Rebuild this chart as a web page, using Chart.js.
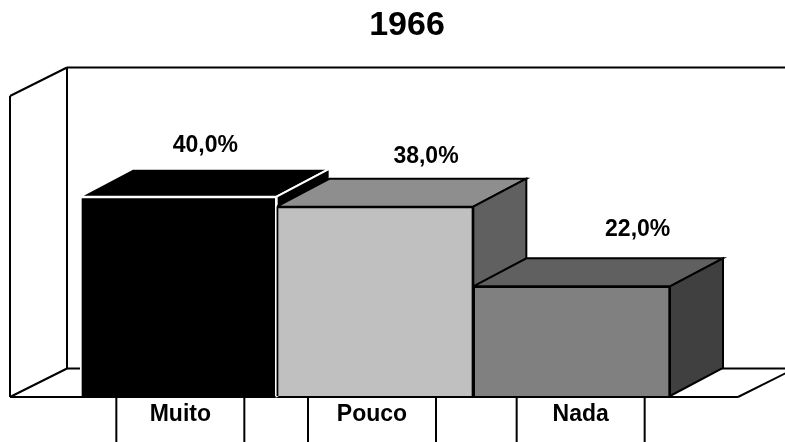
<!DOCTYPE html>
<html>
<head>
<meta charset="utf-8">
<script src="https://cdn.jsdelivr.net/npm/chart.js@4"></script>
<style>
    body { margin: 0; background: #fff; }
    canvas { display: block; }
</style>
</head>
<body>
<canvas id="chart1966" width="785" height="442"></canvas>
<script>
const chartTitle = '1966';
const categories = ['Muito', 'Pouco', 'Nada'];
const percentages = [40.0, 38.0, 22.0];
const axisMax = 60;

// colours of the three faces of each block
const frontColors = ['#000000', '#c0c0c0', '#808080'];
const topColors = ['#000000', '#8e8e8e', '#606060'];
const sideColors = ['#000000', '#606060', '#404040'];
const edgeColors = ['#ffffff', '#000000', '#000000'];

// oblique depth of the 3d effect
const DEPTH_X = 53;
const DEPTH_Y = -28;
const FONT = '"Liberation Sans", Arial, sans-serif';

// small nudges so the labels sit where the original put them
const labelShiftX = [27, 51, 66];
const labelShiftY = [-23, -22, -29];
const boxShiftX = [2, -3, 9];

function formatPercent(v) {
    return v.toFixed(1).replace('.', ',') + '%';
}

function poly(ctx, pts, fill, stroke, lw) {
    ctx.beginPath();
    ctx.moveTo(pts[0][0], pts[0][1]);
    for (let i = 1; i < pts.length; i++) ctx.lineTo(pts[i][0], pts[i][1]);
    ctx.closePath();
    if (fill) { ctx.fillStyle = fill; ctx.fill(); }
    if (stroke) { ctx.strokeStyle = stroke; ctx.lineWidth = lw; ctx.stroke(); }
}

function line(ctx, x1, y1, x2, y2) {
    ctx.beginPath();
    ctx.moveTo(x1, y1);
    ctx.lineTo(x2, y2);
    ctx.stroke();
}

const box3d = {
    id: 'box3d',
    beforeDatasetsDraw(chart) {
        const ctx = chart.ctx;
        const a = chart.chartArea;
        const wx = 57, wy = -28.5;
        const left = a.left - 70, right = a.right + 68;
        const floorY = a.bottom + 1, wallTop = a.top - 1;

        ctx.save();
        ctx.strokeStyle = '#000';
        ctx.lineWidth = 2;
        // back wall + side wall + floor outline
        line(ctx, left + wx, wallTop + wy, chart.width + 5, wallTop + wy);
        line(ctx, left + wx, wallTop + wy, left + wx, floorY + wy);
        line(ctx, left + wx, floorY + wy, chart.width + 5, floorY + wy);
        line(ctx, left, wallTop, left + wx, wallTop + wy);
        line(ctx, left, wallTop, left, floorY);
        line(ctx, left, floorY, left + wx, floorY + wy);
        line(ctx, left, floorY, right, floorY);
        line(ctx, right, floorY, right + wx, floorY + wy);

        // top and side faces, left to right, the fronts are painted later by Chart.js
        const bars = chart.getDatasetMeta(0).data;
        bars.forEach((bar, i) => {
            const x0 = bar.x - bar.width / 2;
            const x1 = bar.x + bar.width / 2;
            const y = bar.y, b = bar.base;
            const edge = edgeColors[i];
            poly(ctx, [[x0, y], [x0 + DEPTH_X, y + DEPTH_Y], [x1 + DEPTH_X, y + DEPTH_Y], [x1, y]],
                topColors[i], edge, 2);
            poly(ctx, [[x1, y], [x1 + DEPTH_X, y + DEPTH_Y], [x1 + DEPTH_X, b + DEPTH_Y], [x1, b]],
                sideColors[i], edge, 2);
        });
        ctx.restore();
    },
    afterDatasetsDraw(chart) {
        const ctx = chart.ctx;
        const a = chart.chartArea;
        const bars = chart.getDatasetMeta(0).data;
        ctx.save();
        ctx.fillStyle = '#000';
        ctx.textAlign = 'center';
        ctx.textBaseline = 'middle';

        // value labels above the blocks
        ctx.font = 'bold 23px ' + FONT;
        bars.forEach((bar, i) => {
            ctx.fillText(formatPercent(percentages[i]),
                bar.x + labelShiftX[i], bar.y + DEPTH_Y + labelShiftY[i]);
        });

        // category boxes under the floor
        ctx.strokeStyle = '#000';
        ctx.lineWidth = 2;
        bars.forEach((bar, i) => {
            const cx = bar.x + boxShiftX[i];
            const top = a.bottom + 1;
            ctx.beginPath();
            ctx.moveTo(cx - 64, chart.height + 5);
            ctx.lineTo(cx - 64, top);
            ctx.lineTo(cx + 64, top);
            ctx.lineTo(cx + 64, chart.height + 5);
            ctx.stroke();
            ctx.fillText(chart.data.labels[i], cx, top + 18);
        });

        // title
        ctx.font = 'bold 34px ' + FONT;
        ctx.fillText(chartTitle, 407, 26);
        ctx.restore();
    }
};

new Chart(document.getElementById('chart1966'), {
    type: 'bar',
    data: {
        labels: categories,
        datasets: [{
            data: percentages,
            backgroundColor: frontColors,
            borderColor: edgeColors,
            borderWidth: 2,
            barPercentage: 1,
            categoryPercentage: 1
        }]
    },
    options: {
        responsive: false,
        animation: false,
        layout: { padding: { left: 80, right: 115, top: 97, bottom: 46 } },
        scales: {
            x: { display: false },
            y: { display: false, min: 0, max: axisMax }
        },
        plugins: {
            legend: { display: false },
            title: { display: false },
            tooltip: { enabled: false }
        }
    },
    plugins: [box3d]
});
</script>
</body>
</html>
